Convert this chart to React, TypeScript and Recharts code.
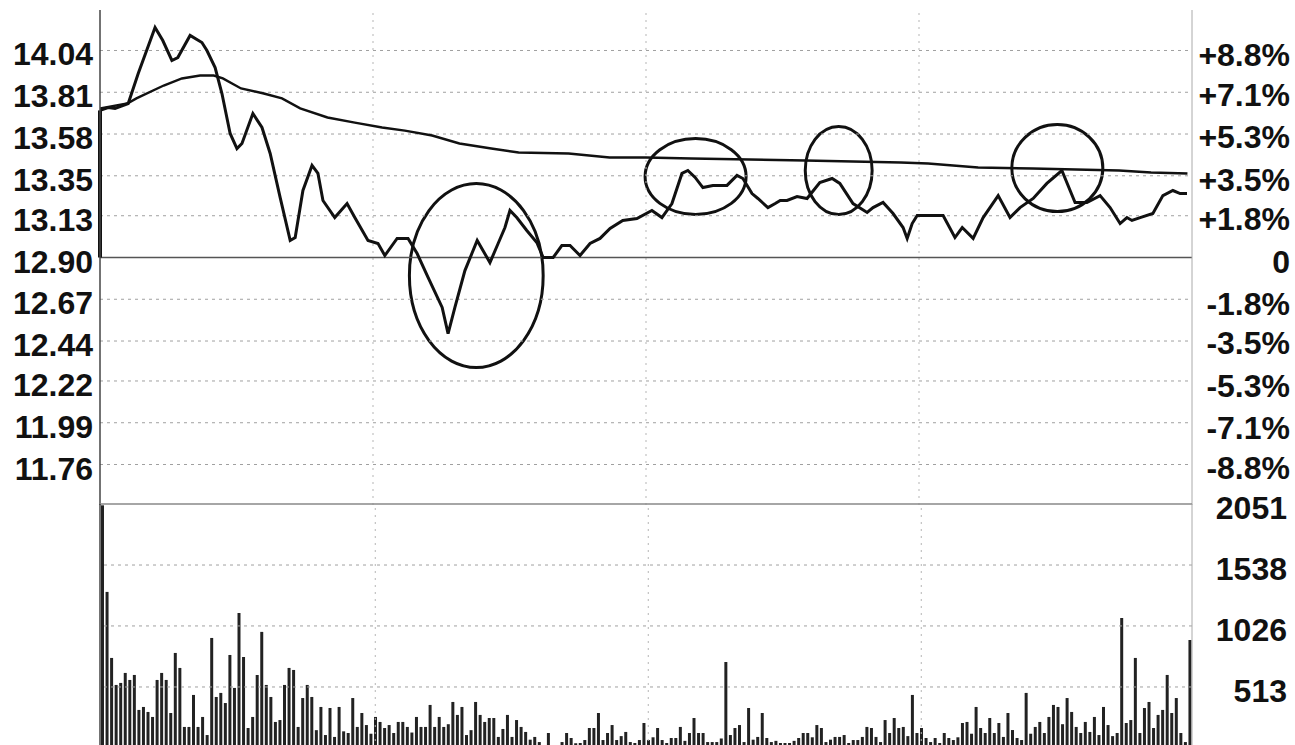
import React from "react";
import {
  LineChart,
  Line,
  BarChart,
  Bar,
  XAxis,
  YAxis,
  ReferenceLine,
  ReferenceArea,
} from "recharts";

// previous close and grid step of the price panel
const BASE = 12.9;
const HALF_RANGE = 1.363;

// left axis price ticks and right axis percent ticks
const priceTicks = [14.04, 13.81, 13.58, 13.35, 13.13, 12.9, 12.67, 12.44, 12.22, 11.99, 11.76];
const pctTicks = [8.8, 7.1, 5.3, 3.5, 1.8, 0, -1.8, -3.5, -5.3, -7.1, -8.8];
const volTicks = [513, 1026, 1538, 2051];
const sessionMarks = [60, 120, 180];

// price line (minute, price)
const priceMin = [
  0, 1.8, 3.3, 6.2, 8.4, 12.1, 13.8, 15.8, 17.1, 19.8, 22.4, 23.5, 25.3, 26.8, 28.6, 30.1, 31.2, 33.6, 35.6, 37.4,
  39.6, 41.8, 42.9, 44.6, 46.6, 47.9, 49.0, 51.6, 54.3, 56.0, 58.9, 61.1, 62.6, 65.3, 67.7, 69.7, 72.1, 75.2, 76.5, 78.0,
  80.2, 82.9, 85.7, 87.5, 89.0, 90.1, 91.6, 93.8, 96.0, 97.4, 99.6, 101.5, 103.3, 105.5, 107.7, 109.9, 112.1, 114.9, 118.0, 121.3,
  123.5, 125.7, 127.9, 129.2, 130.8, 132.5, 134.7, 137.8, 140.0, 141.3, 143.3, 144.6, 146.8, 148.4, 149.5, 151.0, 153.2, 155.4, 158.2, 160.9,
  162.6, 165.5, 168.6, 169.9, 172.1, 174.3, 176.5, 177.4, 178.5, 179.6, 185.3, 187.9, 189.5, 191.9, 194.1, 197.4, 200.0, 202.2, 205.1, 208.1,
  211.4, 214.3, 216.9, 219.8, 222.0, 224.2, 225.7, 226.8, 228.6, 231.4, 233.6, 235.8, 237.4, 238.9,
];
const priceVal = [
  13.71, 13.726, 13.721, 13.748, 13.913, 14.167, 14.095, 13.985, 14.001, 14.123, 14.084, 14.04, 13.946, 13.803, 13.583, 13.5, 13.528, 13.693, 13.616, 13.473,
  13.23, 12.994, 13.01, 13.269, 13.407, 13.363, 13.214, 13.12, 13.197, 13.12, 12.994, 12.977, 12.911, 13.005, 13.005, 12.922, 12.79, 12.625, 12.481, 12.625,
  12.828, 12.994, 12.872, 12.977, 13.065, 13.159, 13.12, 13.049, 12.983, 12.9, 12.9, 12.966, 12.966, 12.911, 12.977, 13.005, 13.06, 13.104, 13.115, 13.159,
  13.12, 13.197, 13.363, 13.379, 13.341, 13.285, 13.297, 13.297, 13.352, 13.335, 13.252, 13.225, 13.175, 13.197, 13.214, 13.214, 13.236, 13.225, 13.313, 13.335,
  13.308, 13.197, 13.148, 13.175, 13.203, 13.142, 13.065, 13.005, 13.087, 13.131, 13.131, 13.01, 13.065, 13.005, 13.12, 13.241, 13.12, 13.175, 13.225, 13.308,
  13.379, 13.203, 13.203, 13.241, 13.175, 13.087, 13.12, 13.104, 13.12, 13.142, 13.241, 13.269, 13.252, 13.252,
];

// average price line (minute, price)
const avgMin = [0, 6, 8, 14, 18, 22, 25, 27, 31, 36, 40, 44, 50, 56, 62, 67, 73, 79, 86, 92, 103, 112, 120, 130, 155, 176, 182, 193, 205, 224, 231, 239];
const avgVal = [
  13.721, 13.748, 13.776, 13.847, 13.886, 13.902, 13.902, 13.886, 13.831, 13.803, 13.776, 13.721, 13.671, 13.643, 13.616, 13.599,
  13.572, 13.528, 13.5, 13.478, 13.473, 13.451, 13.451, 13.445, 13.434, 13.423, 13.418, 13.396, 13.39, 13.379, 13.368, 13.363,
];

// per-minute volume
const volume = [
  2040, 1312, 757, 530, 547, 631, 572, 614, 320, 345, 303, 261, 572, 631, 572, 294, 799, 673, 177, 177,
  446, 177, 261, 109, 925, 429, 463, 378, 782, 505, 1135, 765, 168, 261, 614, 976, 530, 429, 219, 235,
  530, 673, 656, 177, 420, 530, 429, 150, 345, 109, 336, 93, 345, 140, 126, 420, 177, 294, 193, 120,
  261, 219, 168, 193, 126, 219, 219, 177, 130, 261, 177, 177, 362, 177, 261, 177, 200,
  387, 278, 345, 109, 150, 387, 278, 219, 252, 252, 93, 160, 278, 93, 235, 177, 135, 70, 93, 50,
  25, 126, 25, 25, 50, 126, 84, 40, 42, 67, 168, 168, 294, 67, 126, 193, 67, 100, 135, 50,
  42, 67, 210, 67, 90, 168, 67, 42, 84, 84, 177, 60, 126, 252, 126, 126, 50, 50, 50, 80,
  723, 109, 168, 193, 50, 336, 70, 93, 294, 84, 50, 60, 42, 42, 42, 60, 84, 126, 126, 90,
  193, 168, 50, 70, 93, 93, 109, 42, 67, 67, 93, 177,
  168, 93, 50, 235, 126, 252, 168, 177, 100, 446, 126, 168, 84, 50, 84, 42, 126, 84, 67, 90,
  210, 219, 120, 345, 168, 126, 252, 126, 210, 93, 294, 151, 84, 67, 463, 120, 177, 219, 126, 261,
  362, 345, 200, 420, 303, 177, 126, 219, 135, 261, 109, 345, 193, 100, 126, 1093, 210, 235, 757, 126,
  336, 387, 168, 278, 320, 614, 294, 420, 126, 50, 908,
];

// hand-drawn circles: minute range and price range
const circleMinFrom = [68, 119.8, 155, 200.4];
const circleMinTo = [97.4, 142, 169.7, 220.4];
const circleLow = [12.294, 13.137, 13.137, 13.153];
const circleHigh = [13.307, 13.555, 13.621, 13.632];

const priceData = priceMin.map((m, i) => ({ m, p: priceVal[i] }));
const avgData = avgMin.map((m, i) => ({ m, a: avgVal[i] }));
const volData = volume.map((v, i) => ({ i, v }));

const PCT_RANGE = (HALF_RANGE / BASE) * 100;
const toPct = (price: number) => (price / BASE - 1) * 100;

const labelStyle: React.CSSProperties = {
  fontFamily: "'Liberation Sans', Arial, sans-serif",
  fontWeight: 700,
  fontSize: 32,
  fill: "#111",
};

const fmtPct = (v: number) => (v > 0 ? `+${v.toFixed(1)}%` : v === 0 ? "0" : `${v.toFixed(1)}%`);

const LeftTick = (props: any) => (
  <text x={props.x} y={props.y + 4} textAnchor="end" dominantBaseline="central" style={labelStyle}>
    {Number(props.payload.value).toFixed(2)}
  </text>
);

const RightTick = (fmt: (v: number) => string, dx: number) => (props: any) => (
  <text x={props.x + dx} y={props.y + 4} textAnchor="end" dominantBaseline="central" style={labelStyle}>
    {fmt(props.payload.value)}
  </text>
);

const Ellipse = (props: any) => {
  const { x, y, width, height } = props;
  return (
    <ellipse
      cx={x + width / 2}
      cy={y + height / 2}
      rx={width / 2}
      ry={height / 2}
      fill="none"
      stroke="#111"
      strokeWidth={3}
    />
  );
};

export default function App() {
  return (
    <div
      style={{
        position: "absolute",
        left: 0,
        top: 0,
        width: 1295,
        height: 745,
        overflow: "hidden",
        background: "#fff",
      }}
    >
      <div style={{ position: "absolute", left: 0, top: 0 }}>
        <LineChart width={1295} height={505} margin={{ top: 10, right: 0, bottom: 0, left: 0 }}>
          <XAxis dataKey="m" type="number" domain={[0, 240]} hide allowDataOverflow />
          <YAxis
            yAxisId="price"
            type="number"
            domain={[BASE - HALF_RANGE, BASE + HALF_RANGE]}
            ticks={priceTicks}
            width={100}
            tickSize={0}
            tickMargin={7}
            tickLine={false}
            axisLine={{ stroke: "#444", strokeWidth: 1.5 }}
            tick={LeftTick}
            interval={0}
          />
          <YAxis
            yAxisId="pct"
            orientation="right"
            type="number"
            domain={[-PCT_RANGE, PCT_RANGE]}
            ticks={pctTicks}
            width={103}
            tickSize={0}
            tickMargin={0}
            tickLine={false}
            axisLine={{ stroke: "#aaa" }}
            tick={RightTick(fmtPct, 98)}
            interval={0}
          />
          {priceTicks
            .filter((t) => t !== BASE)
            .map((t) => (
              <ReferenceLine key={t} yAxisId="price" y={t} stroke="#a0a0a0" strokeDasharray="3 4" />
            ))}
          {sessionMarks.map((m) => (
            <ReferenceLine key={m} yAxisId="price" x={m} stroke="#b5b5b5" strokeDasharray="2 5" />
          ))}
          <ReferenceLine yAxisId="pct" y={0} stroke="#555" strokeWidth={1.5} />
          <ReferenceLine
            yAxisId="price"
            segment={[
              { x: 0, y: BASE },
              { x: 0, y: priceVal[0] },
            ]}
            stroke="#111"
            strokeWidth={4}
          />
          <Line
            yAxisId="pct"
            data={avgData}
            dataKey={(d: any) => toPct(d.a)}
            type="linear"
            stroke="#111"
            strokeWidth={2.4}
            dot={false}
            isAnimationActive={false}
          />
          <Line
            yAxisId="price"
            data={priceData}
            dataKey="p"
            type="linear"
            stroke="#111"
            strokeWidth={3}
            dot={false}
            isAnimationActive={false}
          />
          {circleMinFrom.map((x1, i) => (
            <ReferenceArea
              key={i}
              yAxisId="price"
              x1={x1}
              x2={circleMinTo[i]}
              y1={circleLow[i]}
              y2={circleHigh[i]}
              ifOverflow="visible"
              shape={Ellipse}
            />
          ))}
        </LineChart>
      </div>
      <div style={{ position: "absolute", left: 0, top: 490 }}>
        <BarChart
          width={1295}
          height={260}
          data={volData}
          margin={{ top: 14, right: 0, bottom: 2, left: 0 }}
          barCategoryGap={0}
        >
          <XAxis dataKey="i" hide />
          <YAxis
            yAxisId="left"
            type="number"
            domain={[0, 2051]}
            width={100}
            tick={false}
            tickLine={false}
            axisLine={{ stroke: "#444", strokeWidth: 1.5 }}
          />
          <YAxis
            yAxisId="vol"
            orientation="right"
            type="number"
            domain={[0, 2051]}
            ticks={volTicks}
            width={103}
            tickSize={0}
            tickMargin={0}
            tickLine={false}
            axisLine={{ stroke: "#aaa" }}
            tick={RightTick((v) => String(v), 95)}
            interval={0}
          />
          {volTicks
            .filter((t) => t !== 2051)
            .map((t) => (
              <ReferenceLine key={t} yAxisId="vol" y={t} stroke="#a0a0a0" strokeDasharray="3 4" />
            ))}
          <ReferenceLine yAxisId="vol" y={2051} stroke="#888" strokeWidth={1.5} />
          {sessionMarks.map((m) => (
            <ReferenceLine key={m} yAxisId="vol" x={m} stroke="#b5b5b5" strokeDasharray="2 5" />
          ))}
          <Bar yAxisId="vol" dataKey="v" fill="#222" barSize={3} isAnimationActive={false} />
        </BarChart>
      </div>
    </div>
  );
}
